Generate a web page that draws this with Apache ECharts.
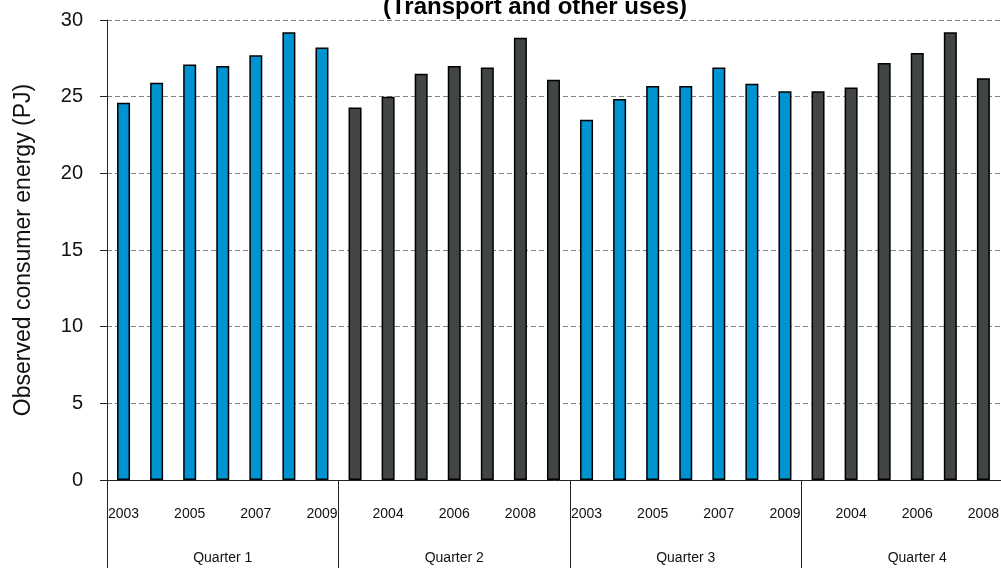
<!DOCTYPE html>
<html>
<head>
<meta charset="utf-8">
<script src="https://cdn.jsdelivr.net/npm/echarts@6/dist/echarts.min.js"></script>
<style>
  html, body { margin: 0; padding: 0; background: #fff; }
  #chart { width: 1001px; height: 568px; }
</style>
</head>
<body>
<div id="chart"></div>
<script>
// data
const years = ['2003', '2004', '2005', '2006', '2007', '2008', '2009']
const quarters = ['Quarter 1', 'Quarter 2', 'Quarter 3', 'Quarter 4']
const q1 = [24.6, 25.9, 27.1, 27.0, 27.7, 29.2, 28.2]
const q2 = [24.3, 25.0, 26.5, 27.0, 26.9, 28.85, 26.1]
const q3 = [23.5, 24.85, 25.7, 25.7, 26.9, 25.85, 25.35]
const q4 = [25.35, 25.6, 27.2, 27.85, 29.2, 26.2, 26.5]
const yTicks = [0, 5, 10, 15, 20, 25, 30]

const quarterColors = ['#0093d2', '#414545', '#0093d2', '#414545']

// categories: one per year inside each quarter
const categories = []
quarters.forEach(() => years.forEach(y => categories.push(y)))
const values = [...q1, ...q2, ...q3, ...q4]

const chart = echarts.init(document.getElementById('chart'))

const option = {
  animation: false,
  title: {
    text: '(Transport and other uses)',
    left: 530,
    textAlign: 'center',
    top: -10,
    textStyle: {
      fontFamily: 'Liberation Sans',
      fontWeight: 'bold',
      fontSize: 24,
      color: '#000'
    }
  },
  grid: {
    left: 107,
    right: -32,
    top: 20,
    bottom: 88,
    outerBoundsMode: 'none',
    containLabel: false
  },
  xAxis: [
    {
      type: 'category',
      data: categories,
      axisLine: { show: true, lineStyle: { color: '#222', width: 1 } },
      axisTick: { show: false },
      axisLabel: {
        interval: 1,
        margin: 27,
        fontFamily: 'Liberation Sans',
        fontSize: 14,
        color: '#111'
      }
    },
    {
      type: 'category',
      position: 'bottom',
      offset: 0,
      data: quarters,
      axisLine: { show: false },
      axisTick: {
        show: true,
        length: 88,
        lineStyle: { color: '#222', width: 1 }
      },
      axisLabel: {
        margin: 71,
        fontFamily: 'Liberation Sans',
        fontSize: 14,
        color: '#111'
      }
    }
  ],
  yAxis: {
    type: 'value',
    min: yTicks[0],
    max: yTicks[yTicks.length - 1],
    interval: 5,
    name: 'Observed consumer energy (PJ)',
    nameLocation: 'middle',
    nameGap: 72,
    nameTextStyle: {
      fontFamily: 'Liberation Sans',
      fontSize: 23,
      color: '#111'
    },
    axisLine: { show: true, lineStyle: { color: '#222', width: 1 } },
    axisTick: { show: true, length: 7, lineStyle: { color: '#222' } },
    axisLabel: {
      margin: 24,
      fontFamily: 'Liberation Sans',
      fontSize: 20,
      color: '#111'
    },
    splitLine: {
      show: true,
      lineStyle: { color: '#7f7f7f', type: [5, 3], width: 1 }
    }
  },
  series: [
    {
      name: 'Observed consumer energy',
      type: 'bar',
      xAxisIndex: 0,
      data: values,
      barWidth: 13,
      itemStyle: {
        color: (p) => quarterColors[Math.floor(p.dataIndex / years.length)],
        borderColor: '#000',
        borderWidth: 1.5
      }
    }
  ]
}

chart.setOption(option)
</script>
</body>
</html>
